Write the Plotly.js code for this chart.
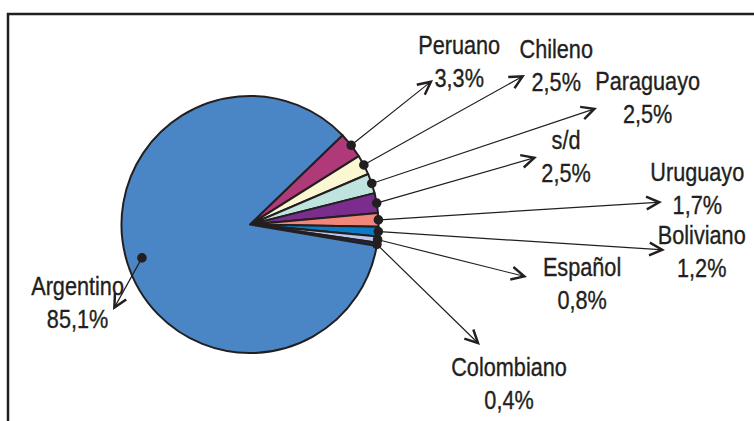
<!DOCTYPE html>
<html><head><meta charset="utf-8">
<script src="https://cdn.plot.ly/plotly-3.0.1.min.js"></script>
<style>
html,body{margin:0;padding:0;background:#fff}
#chart text.annotation-text{transform-box:fill-box;transform-origin:center;transform:scaleX(0.85);stroke:#231f20;stroke-width:0.35px;}
</style>
</head><body><div id="chart" style="width:754px;height:421px"></div>
<script>
// ---- data ----
const categories = ['Peruano','Chileno','Paraguayo','s/d','Uruguayo','Boliviano','Español','Colombiano','Argentino'];
const values = [3.3, 2.5, 2.5, 2.5, 1.7, 1.2, 0.8, 0.4, 85.1];
const valueLabels = ['3,3%','2,5%','2,5%','2,5%','1,7%','1,2%','0,8%','0,4%','85,1%'];

// ---- styles / layout ----
const colors = ['#b0397a','#fbf7d2','#bfe3df','#7b2d8e','#f2867a','#0b7bc6','#bcc6ea','#1f2a6b','#4a86c6'];
const W = 754, H = 421;
const cx = 250, cy = 224.5, R = 128.5, rotation = 46;
const dotFrac = [1,1,1,1,1,1,1,1,0.88];
const labelPos = [[459,61.5],[556,65.5],[647,97],[566,156],[697,189],[701,251.5],[582,283],[509,383],[77,302]];
const arrowTips = [[433,80],[525,75],[597,108],[537,157],[662,202],[665,250],[527,277],[480,345],[113,310]];
const ink = '#231f20';
const fontFamily = '"Liberation Sans", Arial, sans-serif';

const total = values.reduce((a,b)=>a+b,0);
let cum = 0;
const dots = values.map((v,i)=>{
  const th = (rotation + 360*(cum + v/2)/total) * Math.PI/180;
  cum += v;
  const r = R*dotFrac[i];
  return [cx + r*Math.sin(th), cy - r*Math.cos(th)];
});

const px = x => x / W, py = y => 1 - y / H;

const annotations = [];
const shapes = [{
  type:'rect', xref:'paper', yref:'paper', x0:px(8), x1:1.2, y0:-0.2, y1:py(14),
  line:{color:ink, width:2.5}, fillcolor:'rgba(0,0,0,0)', layer:'below'
}];
categories.forEach((c,i)=>{
  const [tx,ty] = arrowTips[i], [dx,dy] = dots[i];
  annotations.push({
    xref:'paper', yref:'paper', x:px(tx), y:py(ty), ax:dx-tx, ay:dy-ty,
    text:'', showarrow:true, arrowhead:5, arrowsize:2.1, arrowwidth:1.2,
    arrowcolor:ink, standoff:0, startstandoff:0
  });
  annotations.push({
    xref:'paper', yref:'paper', x:px(labelPos[i][0]), y:py(labelPos[i][1]),
    text: c + '<br>' + valueLabels[i], showarrow:false,
    xanchor:'center', yanchor:'middle', align:'center',
    font:{family:fontFamily, size:25.5, color:ink}
  });
  shapes.push({
    type:'circle', xref:'paper', yref:'paper', layer:'above',
    x0:px(dx-4.8), x1:px(dx+4.8), y0:py(dy+4.8), y1:py(dy-4.8),
    fillcolor:ink, line:{width:0}
  });
});

const trace = {
  type:'pie', values:values, labels:categories, sort:false, direction:'clockwise',
  rotation:rotation, textinfo:'none', hoverinfo:'none',
  marker:{colors:colors, line:{color:ink, width:2}},
  domain:{x:[px(cx-R), px(cx+R)], y:[py(cy+R), py(cy-R)]}
};

Plotly.newPlot('chart', [trace], {
  width:W, height:H, margin:{l:0,r:0,t:0,b:0}, showlegend:false,
  paper_bgcolor:'#fff', plot_bgcolor:'#fff',
  annotations:annotations, shapes:shapes
}, {staticPlot:true});
</script></body></html>
